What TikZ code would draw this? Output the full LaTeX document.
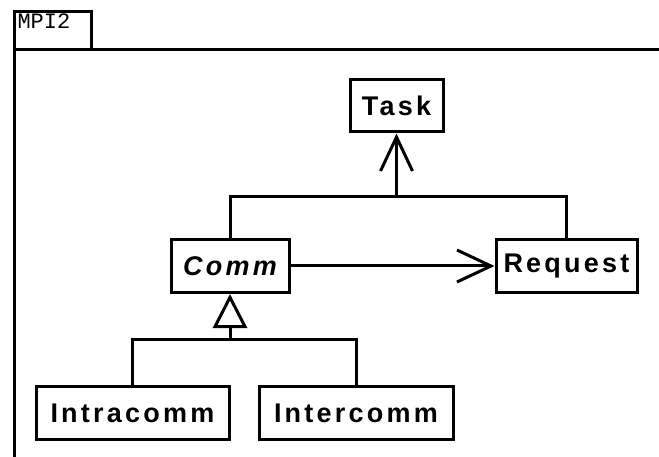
\documentclass[tikz,border=0pt]{standalone}
\usepackage{fontspec}
\setmainfont{Liberation Sans}
\newfontfamily\classfont[LetterSpace=12]{Liberation Sans}
\newfontfamily\tabfont{Liberation Mono}
\usetikzlibrary{arrows.meta}
\begin{document}
\begin{tikzpicture}[x=1pt,y=-1pt,line width=3pt,
  classbox/.style={draw,fill=white,inner sep=0pt,minimum height=53pt,
    font=\classfont\bfseries\fontsize{27}{27}\selectfont},
  openarrow/.style={-{Straight Barb[length=34pt,width=32pt,line width=3pt]}},
  inherit/.style={-{Triangle[open,length=34pt,width=34pt,line width=3pt,fill=white]}}]
\useasboundingbox (0,0) rectangle (659,457);
% package frame with its name tab
\draw (14,457) -- (14,12) -- (91,12) -- (91,50);
\draw (14,50) -- (660,50);
\node[anchor=north west,inner sep=0pt,font=\tabfont\fontsize{22}{22}\selectfont] (pkg) at (16,12) {MPI2};
% classes
\node[classbox,minimum width=93pt,minimum height=52pt] (task) at (396.5,106) {Task};
\node[classbox,minimum width=118pt] (comm) at (230,266) {\itshape Comm};
\node[classbox,minimum width=141pt] (request) at (566.5,266) {Request};
\node[classbox,minimum width=193pt] (intra) at (132.5,413) {Intracomm};
\node[classbox,minimum width=194pt] (inter) at (356,413) {Intercomm};
% associations towards Task
\coordinate (up) at (task.south |- 0,197);
\draw (comm.north) |- (up) -| (request.north);
\draw[openarrow] (up) -- (task.south);
\draw[openarrow] (comm.east) -- (request.west);
% generalization of Comm
\coordinate (down) at (comm.south |- 0,339);
\draw (intra.north) |- (down) -| (inter.north);
\draw[inherit] (down) -- (comm.south);
\end{tikzpicture}
\end{document}
